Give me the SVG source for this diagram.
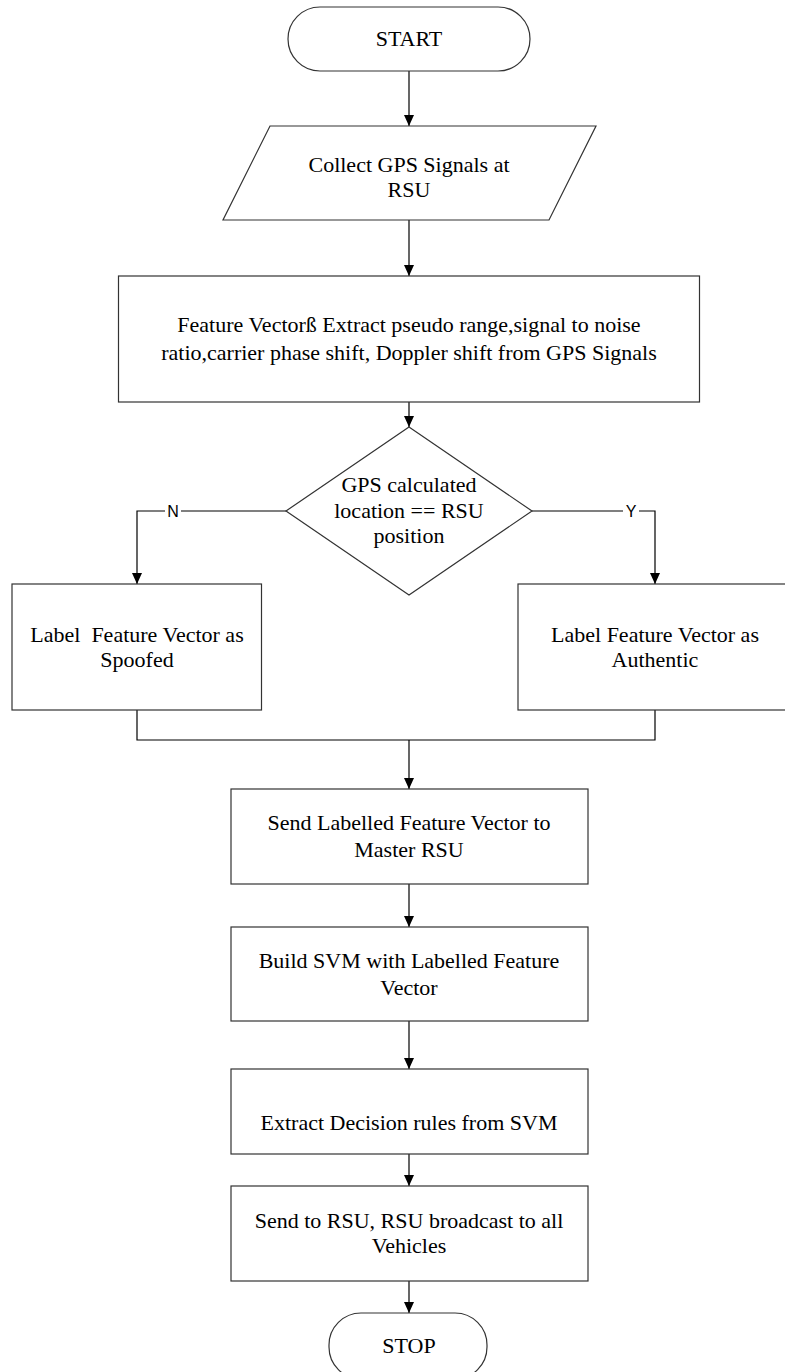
<svg xmlns="http://www.w3.org/2000/svg" width="785" height="1372" viewBox="0 0 785 1372">
<style>
.shape{fill:#fff;stroke:#333;stroke-width:1.2}
.conn{fill:none;stroke:#000;stroke-width:1.2}
.t{font-family:"Liberation Serif","Times New Roman",serif;font-size:22px;fill:#000;text-anchor:middle}
.lbl{font-family:"Liberation Sans",Arial,sans-serif;font-size:16px;fill:#000;text-anchor:middle}
</style>
<defs>
<marker id="arr" markerUnits="userSpaceOnUse" markerWidth="11" markerHeight="10" refX="11" refY="5" orient="auto">
<path d="M0,0 L11,5 L0,10 z" fill="#000"/>
</marker>
</defs>
<rect width="785" height="1372" fill="#fff"/>
<g id="connectors">
<path class="conn" d="M409,71 V126" marker-end="url(#arr)"/>
<path class="conn" d="M409,220 V276" marker-end="url(#arr)"/>
<path class="conn" d="M409,402 V427" marker-end="url(#arr)"/>
<path class="conn" d="M286,511 H137 V584" marker-end="url(#arr)"/>
<path class="conn" d="M532,511 H655 V584" marker-end="url(#arr)"/>
<path class="conn" d="M137,710 V740 H655 V710"/>
<path class="conn" d="M409,740 V789" marker-end="url(#arr)"/>
<path class="conn" d="M409,884 V927" marker-end="url(#arr)"/>
<path class="conn" d="M409,1021 V1069" marker-end="url(#arr)"/>
<path class="conn" d="M409,1154 V1186" marker-end="url(#arr)"/>
<path class="conn" d="M409,1281 V1313" marker-end="url(#arr)"/>
<rect x="165" y="502" width="16" height="18" fill="#fff"/>
<text class="lbl" x="173" y="517">N</text>
<rect x="623" y="502" width="16" height="18" fill="#fff"/>
<text class="lbl" x="631" y="517">Y</text>
</g>
<g id="start">
<rect class="shape" x="288" y="7" width="242" height="64" rx="32" ry="32"/>
<text class="t" x="409" y="46">START</text>
</g>
<g id="collect">
<polygon class="shape" points="270,126 596,126 549,220 223,220"/>
<text class="t" x="409" y="172">Collect GPS Signals at</text>
<text class="t" x="409" y="197">RSU</text>
</g>
<g id="feature">
<rect class="shape" x="118.5" y="276" width="581" height="126"/>
<text class="t" x="409" y="332">Feature Vectorß Extract pseudo range,signal to noise</text>
<text class="t" x="409" y="360">ratio,carrier phase shift, Doppler shift from GPS Signals</text>
</g>
<g id="decision">
<polygon class="shape" points="409,427 532,511 409,595 286,511"/>
<text class="t" x="409" y="492">GPS calculated</text>
<text class="t" x="409" y="518">location == RSU</text>
<text class="t" x="409" y="543">position</text>
</g>
<g id="spoofed">
<rect class="shape" x="12" y="584" width="249.5" height="126"/>
<text class="t" x="137" y="642" xml:space="preserve">Label  Feature Vector as</text>
<text class="t" x="137" y="667">Spoofed</text>
</g>
<g id="authentic">
<rect class="shape" x="518" y="584" width="274" height="126"/>
<text class="t" x="655" y="642">Label Feature Vector as</text>
<text class="t" x="655" y="667">Authentic</text>
</g>
<g id="send-master">
<rect class="shape" x="231" y="789" width="357" height="95"/>
<text class="t" x="409" y="830">Send Labelled Feature Vector to</text>
<text class="t" x="409" y="857">Master RSU</text>
</g>
<g id="build-svm">
<rect class="shape" x="231" y="927" width="357" height="94"/>
<text class="t" x="409" y="968">Build SVM with Labelled Feature</text>
<text class="t" x="409" y="995">Vector</text>
</g>
<g id="extract-rules">
<rect class="shape" x="231" y="1069" width="357" height="85"/>
<text class="t" x="409" y="1130">Extract Decision rules from SVM</text>
</g>
<g id="broadcast">
<rect class="shape" x="231" y="1186" width="357" height="95"/>
<text class="t" x="409" y="1228">Send to RSU, RSU broadcast to all</text>
<text class="t" x="409" y="1253">Vehicles</text>
</g>
<g id="stop">
<rect class="shape" x="329" y="1313" width="158" height="66" rx="32" ry="32"/>
<text class="t" x="409" y="1353">STOP</text>
</g>
</svg>
